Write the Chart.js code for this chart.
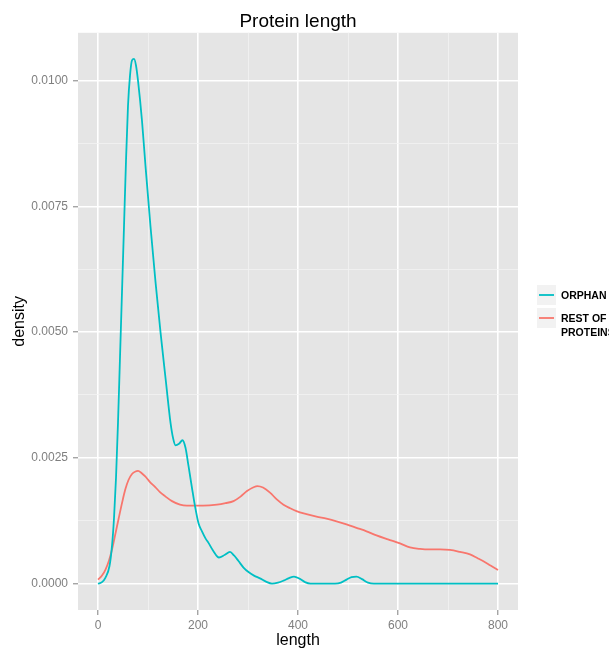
<!DOCTYPE html>
<html>
<head>
<meta charset="utf-8">
<title>Protein length</title>
<script src="https://cdn.jsdelivr.net/npm/chart.js@4/dist/chart.umd.min.js"></script>
<style>
  html, body { margin: 0; padding: 0; background: #ffffff; }
  canvas { display: block; }
</style>
</head>
<body>
<canvas id="chart" width="609" height="648"></canvas>
<script>
// Kernel density of protein length, by group
const seriesNames = ['ORPHAN', 'REST OF\nPROTEINS'];
const seriesColors = ['#00BFC4', '#F8766D'];

const orphanLength = [0, 8, 15, 23, 28, 32, 36, 40, 44, 48, 52, 56, 60, 64, 68, 72, 76, 80, 88, 95, 105, 115, 125, 136, 145, 150, 155, 162, 169, 175, 181, 188, 194, 201, 208, 215, 221, 230, 242, 253, 264, 272, 281, 291, 301, 312, 324, 336, 348, 360, 371, 382, 392, 403, 414, 425, 437, 474, 486, 497, 507, 517, 528, 540, 552, 600, 700, 800];
const orphanDensity = [0, 0.00003, 0.00012, 0.00035, 0.00075, 0.0013, 0.0021, 0.0032, 0.0045, 0.0058, 0.0071, 0.0084, 0.0095, 0.0101, 0.0104, 0.01043, 0.0103, 0.0100, 0.0092, 0.0083, 0.0071, 0.0060, 0.0050, 0.0040, 0.0032, 0.0029, 0.00275, 0.00278, 0.00285, 0.0027, 0.00234, 0.0019, 0.00154, 0.0012, 0.00104, 0.0009, 0.00081, 0.00066, 0.00052, 0.00057, 0.00063, 0.00056, 0.00045, 0.00032, 0.00023, 0.00016, 0.000105, 0.00004, 0, 0.00002, 0.00006, 0.00011, 0.00014, 0.0001, 0.00003, 0, 0, 0, 0.00002, 0.00008, 0.00013, 0.00014, 0.00009, 0.00002, 0, 0, 0, 0];

const restLength = [0, 8, 15, 22, 28, 35, 41, 48, 54.5, 61, 68, 75, 80, 87, 94.5, 104, 114.5, 124, 134, 148, 164, 178, 191, 210, 238, 255, 271, 285, 298, 310, 319, 330, 344, 357, 371, 384, 397, 417, 437, 457, 477, 497, 517, 537, 557, 580, 604, 624, 644, 664, 684, 704, 724, 744, 760, 770, 785, 800];
const restDensity = [0.00008, 0.00016, 0.00028, 0.00046, 0.00068, 0.001, 0.00128, 0.0016, 0.00187, 0.00206, 0.00218, 0.00223, 0.00224, 0.0022, 0.00213, 0.00202, 0.00192, 0.00182, 0.00174, 0.00164, 0.00157, 0.00155, 0.00155, 0.00155, 0.00157, 0.0016, 0.00164, 0.00173, 0.00184, 0.00191, 0.00194, 0.00191, 0.00181, 0.00168, 0.00157, 0.0015, 0.00144, 0.00138, 0.00133, 0.00129, 0.00124, 0.00118, 0.00111, 0.00104, 0.00096, 0.00088, 0.0008, 0.00072, 0.00069, 0.00068, 0.00068, 0.00067, 0.00063, 0.00058, 0.0005, 0.00045, 0.00036, 0.00027];

const xMajorTicks = [0, 200, 400, 600, 800];
const xMinorTicks = [100, 300, 500, 700];
const yMajorTicks = [0, 0.0025, 0.005, 0.0075, 0.01];
const yMinorTicks = [0.00125, 0.00375, 0.00625, 0.00875];

const toPoints = (xs, ys) => xs.map((x, i) => ({ x: x, y: ys[i] }));
const isMajor = (list, v) => list.some(m => Math.abs(m - v) < 1e-9);

const FONT = "'Liberation Sans', Arial, sans-serif";
const TICK_GREY = '#7F7F7F';

// grey panel behind the grid
const panelBackground = {
  id: 'panelBackground',
  beforeDraw(chart) {
    const { ctx, chartArea: a } = chart;
    ctx.save();
    ctx.fillStyle = '#ffffff';
    ctx.fillRect(0, 0, chart.width, chart.height);
    ctx.fillStyle = '#E5E5E5';
    ctx.fillRect(a.left, a.top, a.right - a.left, a.bottom - a.top);
    ctx.restore();
  }
};

// legend with grey key boxes to the right of the panel
const sideLegend = {
  id: 'sideLegend',
  afterDraw(chart) {
    const ctx = chart.ctx;
    const left = chart.chartArea.right + 19;
    const keyW = 19;
    const rows = [{ top: 285, h: 20 }, { top: 308, h: 20 }];
    ctx.save();
    chart.data.datasets.forEach((ds, i) => {
      const r = rows[i];
      ctx.fillStyle = '#F2F2F2';
      ctx.fillRect(left, r.top, keyW, r.h);
      const cy = r.top + r.h / 2;
      ctx.strokeStyle = ds.borderColor;
      ctx.lineWidth = 1.8;
      ctx.beginPath();
      ctx.moveTo(left + 2, cy);
      ctx.lineTo(left + keyW - 2, cy);
      ctx.stroke();
      ctx.fillStyle = '#000000';
      ctx.font = 'bold 10.5px ' + FONT;
      ctx.textAlign = 'left';
      ctx.textBaseline = 'middle';
      ds.label.split('\n').forEach((line, j) => {
        ctx.fillText(line, left + keyW + 5, cy + 1 + j * 14.5);
      });
    });
    ctx.restore();
  }
};

new Chart(document.getElementById('chart'), {
  type: 'line',
  data: {
    datasets: [
      {
        label: seriesNames[0],
        data: toPoints(orphanLength, orphanDensity),
        borderColor: seriesColors[0],
        backgroundColor: seriesColors[0],
        borderWidth: 1.8,
        pointRadius: 0,
        fill: false,
        cubicInterpolationMode: 'monotone'
      },
      {
        label: seriesNames[1],
        data: toPoints(restLength, restDensity),
        borderColor: seriesColors[1],
        backgroundColor: seriesColors[1],
        borderWidth: 1.8,
        pointRadius: 0,
        fill: false,
        cubicInterpolationMode: 'monotone'
      }
    ]
  },
  options: {
    responsive: false,
    animation: false,
    devicePixelRatio: 1,
    layout: { padding: { left: 0, right: 91, top: 0, bottom: 0 } },
    plugins: {
      legend: { display: false },
      tooltip: { enabled: false },
      title: {
        display: true,
        text: 'Protein length',
        fullSize: false,
        color: '#000000',
        font: { family: FONT, size: 19, weight: 'normal', lineHeight: 1.2 },
        padding: { top: 10, bottom: 0 }
      }
    },
    scales: {
      x: {
        type: 'linear',
        min: -40,
        max: 840,
        afterBuildTicks(scale) {
          scale.ticks = xMajorTicks.concat(xMinorTicks).sort((a, b) => a - b).map(v => ({ value: v }));
        },
        afterFit(scale) { scale.height = 38; },
        border: { display: false },
        grid: {
          drawTicks: true,
          tickLength: 5,
          color: c => isMajor(xMajorTicks, c.tick.value) ? '#FFFFFF' : '#F2F2F2',
          lineWidth: c => isMajor(xMajorTicks, c.tick.value) ? 1.6 : 0.8,
          tickColor: c => isMajor(xMajorTicks, c.tick.value) ? TICK_GREY : 'rgba(0,0,0,0)',
          tickWidth: 1
        },
        ticks: {
          autoSkip: false,
          maxRotation: 0,
          padding: 3,
          color: TICK_GREY,
          font: { family: FONT, size: 12 },
          callback: v => isMajor(xMajorTicks, v) ? String(v) : ''
        },
        title: {
          display: true,
          text: 'length',
          color: '#000000',
          font: { family: FONT, size: 16, lineHeight: 0.9 },
          padding: 0
        }
      },
      y: {
        type: 'linear',
        min: -0.000524,
        max: 0.01095,
        afterBuildTicks(scale) {
          scale.ticks = yMajorTicks.concat(yMinorTicks).sort((a, b) => a - b).map(v => ({ value: v }));
        },
        afterFit(scale) { scale.width = 78; },
        border: { display: false },
        grid: {
          drawTicks: true,
          tickLength: 5,
          color: c => isMajor(yMajorTicks, c.tick.value) ? '#FFFFFF' : '#F2F2F2',
          lineWidth: c => isMajor(yMajorTicks, c.tick.value) ? 1.6 : 0.8,
          tickColor: c => isMajor(yMajorTicks, c.tick.value) ? TICK_GREY : 'rgba(0,0,0,0)',
          tickWidth: 1
        },
        ticks: {
          autoSkip: false,
          padding: 5,
          color: TICK_GREY,
          font: { family: FONT, size: 12 },
          callback: v => isMajor(yMajorTicks, v) ? v.toFixed(4) : ''
        },
        title: {
          display: true,
          text: 'density',
          color: '#000000',
          font: { family: FONT, size: 16, lineHeight: 1.2 },
          padding: { top: 10, bottom: 0 }
        }
      }
    }
  },
  plugins: [panelBackground, sideLegend]
});
</script>
</body>
</html>
